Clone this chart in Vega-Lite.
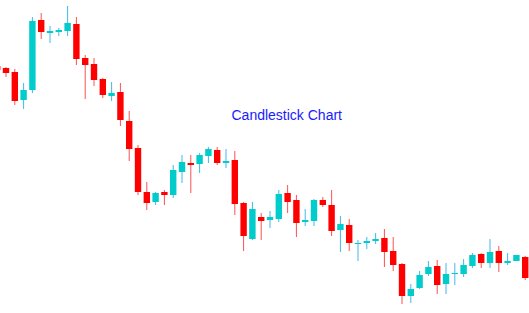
{
  "$schema": "https://vega.github.io/schema/vega-lite/v6.json",
  "width": 529,
  "height": 313,
  "autosize": {"type": "fit", "contains": "padding"},
  "padding": 0,
  "background": "#ffffff",
  "config": {"view": {"stroke": null}},
  "data": {
    "values": [
      {"i": -1, "open": 247, "high": 248, "low": 242, "close": 243},
      {"i": 0, "open": 245, "high": 246, "low": 236, "close": 240},
      {"i": 1, "open": 241, "high": 244, "low": 208, "close": 212},
      {"i": 2, "open": 213, "high": 230, "low": 204, "close": 223},
      {"i": 3, "open": 223, "high": 296, "low": 220, "close": 292},
      {"i": 4, "open": 293, "high": 300, "low": 274, "close": 281},
      {"i": 5, "open": 280, "high": 287, "low": 270, "close": 282},
      {"i": 6, "open": 281, "high": 285, "low": 277, "close": 283},
      {"i": 7, "open": 282, "high": 307, "low": 277, "close": 290},
      {"i": 8, "open": 289, "high": 296, "low": 248, "close": 254},
      {"i": 9, "open": 255, "high": 258, "low": 214, "close": 248},
      {"i": 10, "open": 249, "high": 255, "low": 227, "close": 233},
      {"i": 11, "open": 234, "high": 235, "low": 215, "close": 218},
      {"i": 12, "open": 217, "high": 231, "low": 212, "close": 220},
      {"i": 13, "open": 221, "high": 230, "low": 187, "close": 193},
      {"i": 14, "open": 192, "high": 202, "low": 152, "close": 164},
      {"i": 15, "open": 165, "high": 168, "low": 118, "close": 121},
      {"i": 16, "open": 121, "high": 131, "low": 103, "close": 110},
      {"i": 17, "open": 111, "high": 121, "low": 108, "close": 120},
      {"i": 18, "open": 121, "high": 123, "low": 108, "close": 118},
      {"i": 19, "open": 118, "high": 148, "low": 115, "close": 143},
      {"i": 20, "open": 141, "high": 158, "low": 130, "close": 151},
      {"i": 21, "open": 150, "high": 158, "low": 120, "close": 148},
      {"i": 22, "open": 149, "high": 160, "low": 140, "close": 158},
      {"i": 23, "open": 157, "high": 166, "low": 150, "close": 164},
      {"i": 24, "open": 163, "high": 166, "low": 148, "close": 150},
      {"i": 25, "open": 150, "high": 164, "low": 145, "close": 152},
      {"i": 26, "open": 153, "high": 162, "low": 98, "close": 109},
      {"i": 27, "open": 110, "high": 111, "low": 62, "close": 77},
      {"i": 28, "open": 74, "high": 111, "low": 73, "close": 104},
      {"i": 29, "open": 96, "high": 100, "low": 73, "close": 92},
      {"i": 30, "open": 93, "high": 102, "low": 85, "close": 96},
      {"i": 31, "open": 94, "high": 123, "low": 91, "close": 119},
      {"i": 32, "open": 120, "high": 128, "low": 100, "close": 111},
      {"i": 33, "open": 113, "high": 118, "low": 76, "close": 90},
      {"i": 34, "open": 91, "high": 104, "low": 87, "close": 93},
      {"i": 35, "open": 92, "high": 114, "low": 87, "close": 113},
      {"i": 36, "open": 113, "high": 116, "low": 106, "close": 108},
      {"i": 37, "open": 108, "high": 123, "low": 77, "close": 82},
      {"i": 38, "open": 83, "high": 97, "low": 61, "close": 89},
      {"i": 39, "open": 88, "high": 94, "low": 62, "close": 70},
      {"i": 40, "open": 69, "high": 73, "low": 52, "close": 70},
      {"i": 41, "open": 70, "high": 76, "low": 64, "close": 72},
      {"i": 42, "open": 72, "high": 80, "low": 69, "close": 74},
      {"i": 43, "open": 75, "high": 84, "low": 46, "close": 61},
      {"i": 44, "open": 62, "high": 76, "low": 42, "close": 48},
      {"i": 45, "open": 49, "high": 50, "low": 9, "close": 17},
      {"i": 46, "open": 17, "high": 29, "low": 10, "close": 24},
      {"i": 47, "open": 25, "high": 42, "low": 24, "close": 38},
      {"i": 48, "open": 39, "high": 52, "low": 37, "close": 46},
      {"i": 49, "open": 47, "high": 53, "low": 19, "close": 28},
      {"i": 50, "open": 29, "high": 50, "low": 19, "close": 39},
      {"i": 51, "open": 39, "high": 50, "low": 28, "close": 40},
      {"i": 52, "open": 39, "high": 54, "low": 36, "close": 48},
      {"i": 53, "open": 47, "high": 60, "low": 45, "close": 58},
      {"i": 54, "open": 59, "high": 60, "low": 45, "close": 50},
      {"i": 55, "open": 50, "high": 74, "low": 45, "close": 61},
      {"i": 56, "open": 62, "high": 67, "low": 41, "close": 50},
      {"i": 57, "open": 50, "high": 60, "low": 48, "close": 52},
      {"i": 58, "open": 52, "high": 58, "low": 52, "close": 58},
      {"i": 59, "open": 56, "high": 57, "low": 33, "close": 35}
    ]
  },
  "encoding": {
    "x": {
      "field": "i",
      "type": "quantitative",
      "scale": {"domain": [-0.682, 59.43], "nice": false, "zero": false, "padding": 0},
      "axis": null
    }
  },
  "layer": [
    {
      "mark": {"type": "rule", "clip": true, "strokeWidth": 1},
      "encoding": {
        "y": {"field": "low", "type": "quantitative", "scale": {"domain": [0, 313], "nice": false, "zero": false, "padding": 0}, "axis": null},
        "y2": {"field": "high"},
        "color": {
          "condition": {"test": "datum.close < datum.open", "value": "#ff5050"},
          "value": "#40b8f0"
        }
      }
    },
    {
      "mark": {"type": "bar", "clip": true, "size": 6.4},
      "encoding": {
        "y": {"field": "open", "type": "quantitative"},
        "y2": {"field": "close"},
        "color": {
          "condition": {"test": "datum.close < datum.open", "value": "#ff0000"},
          "value": "#00cccc"
        }
      }
    },
    {
      "data": {"values": [{"label": "Candlestick Chart", "i": 31.9, "price": 193.5}]},
      "mark": {
        "type": "text",
        "font": "Liberation Sans",
        "fontSize": 14,
        "color": "#1a1aff",
        "align": "center",
        "baseline": "alphabetic"
      },
      "encoding": {
        "y": {"field": "price", "type": "quantitative"},
        "text": {"field": "label"}
      }
    }
  ]
}
